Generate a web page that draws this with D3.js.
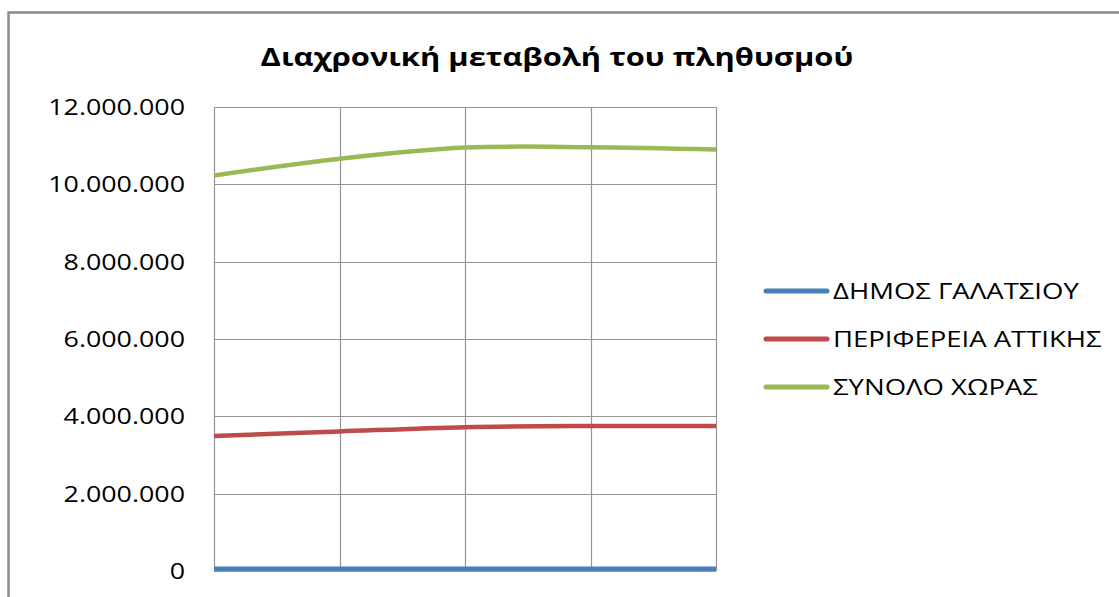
<!DOCTYPE html>
<html>
<head>
<meta charset="utf-8">
<script src="https://cdn.jsdelivr.net/npm/d3@7/dist/d3.min.js"></script>
<style>
  html, body { margin: 0; padding: 0; background: #fff; }
  svg { display: block; }
  text { font-family: "Open Sans", "Noto Sans", "DejaVu Sans", sans-serif; fill: #000; }
</style>
</head>
<body>
<svg id="chart" width="1119" height="597"></svg>
<script>
// ---- data ----
const categories = ["1", "2", "3", "4", "5"];
const galatsi = [57000, 58500, 59300, 59500, 59300];
const attiki = [3490000, 3610000, 3720000, 3750000, 3750000];
const synolo = [10230000, 10660000, 10950000, 10960000, 10900000];
const seriesNames = ["ΔΗΜΟΣ ΓΑΛΑΤΣΙΟΥ", "ΠΕΡΙΦΕΡΕΙΑ ΑΤΤΙΚΗΣ", "ΣΥΝΟΛΟ ΧΩΡΑΣ"];
const yTicks = [0, 2000000, 4000000, 6000000, 8000000, 10000000, 12000000];
const title = "Διαχρονική μεταβολή του πληθυσμού";

const series = [
  { name: seriesNames[0], values: galatsi, color: "#4A7EBB" },
  { name: seriesNames[1], values: attiki, color: "#BE4B48" },
  { name: seriesNames[2], values: synolo, color: "#98B954" }
];

const svg = d3.select("#chart");
const SX = 1.22; // horizontal stretch of text

// outer chart border
svg.append("path")
  .attr("d", "M8.5,600 L8.5,12.5 L1125,12.5")
  .attr("fill", "none").attr("stroke", "#8a8a8a").attr("stroke-width", 2.5);

const plot = { left: 214, right: 716, top: 107, bottom: 571 };

const x = d3.scalePoint().domain(categories).range([plot.left, plot.right]);
const y = d3.scaleLinear().domain([0, 12000000]).range([plot.bottom, plot.top]);

const fmt = v => d3.format(",")(v).replace(/,/g, ".");

// horizontal gridlines
svg.append("g").selectAll("line").data(yTicks).join("line")
  .attr("x1", plot.left).attr("x2", plot.right)
  .attr("y1", d => Math.round(y(d)) + 0.5).attr("y2", d => Math.round(y(d)) + 0.5)
  .attr("stroke", "#959595").attr("stroke-width", 1.2);

// vertical gridlines
svg.append("g").selectAll("line").data(categories).join("line")
  .attr("x1", d => Math.round(x(d)) + 0.5).attr("x2", d => Math.round(x(d)) + 0.5)
  .attr("y1", plot.top).attr("y2", plot.bottom)
  .attr("stroke", "#959595").attr("stroke-width", 1.2);

// y axis labels
const yl = svg.append("g").selectAll("g").data(yTicks).join("g")
  .attr("transform", d => `translate(185,${y(d) + 8}) scale(${SX},1)`);
yl.append("text").attr("text-anchor", "end").attr("font-size", 22).text(d => fmt(d));

// lines
const line = d3.line()
  .x((d, i) => x(categories[i]))
  .y(d => y(d))
  .curve(d3.curveCardinal.tension(0));

svg.append("g").selectAll("path").data(series).join("path")
  .attr("d", d => line(d.values))
  .attr("fill", "none")
  .attr("stroke", d => d.color)
  .attr("stroke-width", 4.5)
  .attr("stroke-linejoin", "round");

// legend
const lg = svg.append("g").selectAll("g").data(series).join("g")
  .attr("transform", (d, i) => `translate(0,${291 + i * 48})`);
lg.append("line").attr("x1", 766).attr("x2", 827).attr("y1", 0).attr("y2", 0)
  .attr("stroke", d => d.color).attr("stroke-width", 5).attr("stroke-linecap", "round");
lg.append("g").attr("transform", `translate(833,8) scale(1.25,1)`)
  .append("text").attr("font-size", 22).text(d => d.name);

// title
svg.append("g").attr("transform", `translate(557,66) scale(${SX},1)`)
  .append("text").attr("text-anchor", "middle").attr("font-size", 25.3)
  .attr("font-weight", "bold").text(title);
</script>
</body>
</html>
